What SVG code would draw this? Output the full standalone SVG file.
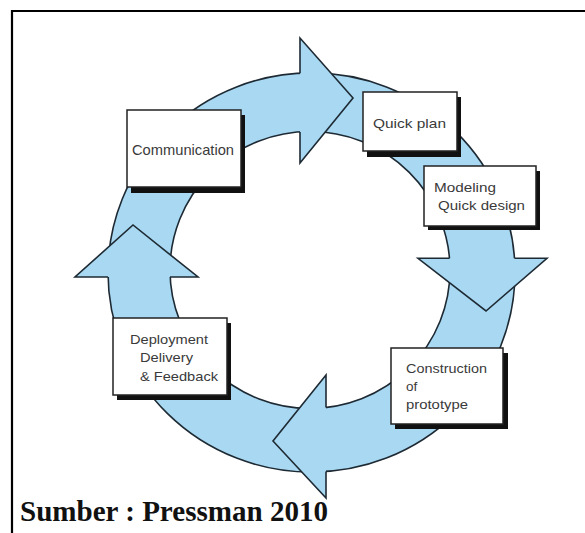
<svg xmlns="http://www.w3.org/2000/svg" width="585" height="533" viewBox="0 0 585 533">
<style>
.ring{fill:#a8d8f2;stroke:#1e2a33;stroke-width:1.6;fill-rule:evenodd}
.headfill{fill:#a8d8f2;stroke:none}
.headline{fill:none;stroke:#1e2a33;stroke-width:1.6;stroke-linejoin:miter}
.shadow{fill:#111}
.box{fill:#fff;stroke:#222;stroke-width:1.5}
.lbl{font-family:"Liberation Sans",Arial,sans-serif;fill:#3a3a3a;font-size:13.5px}
.src{font-family:"Liberation Serif","Times New Roman",serif;font-weight:bold;fill:#111;font-size:29px}
</style>
<rect x="0" y="0" width="585" height="533" fill="#fff"/>
<g id="frame">
<line x1="11" y1="11" x2="585" y2="11" stroke="#000" stroke-width="2.2"/>
<line x1="12" y1="10" x2="12" y2="533" stroke="#000" stroke-width="2.2"/>
</g>
<g id="connectors">
<path class="ring" d="M108,272.5 A203.5,199.5 0 1,0 515,272.5 A203.5,199.5 0 1,0 108,272.5 Z M170,270 A140,138.5 0 1,0 450,270 A140,138.5 0 1,0 170,270 Z"/>
<polygon class="headfill" points="300,38 353,98 300,163"/>
<polyline class="headline" points="300,73.3 300,38 353,98 300,163 300,131.9"/>
<polygon class="headfill" points="418,258.3 486,311 547,258.3"/>
<polyline class="headline" points="449.5,258.3 418,258.3 486,311 547,258.3 514.5,258.3"/>
<polygon class="headfill" points="326,375 273,441 326,498"/>
<polyline class="headline" points="326,407.6 326,375 273,441 326,498 326,471.5"/>
<polygon class="headfill" points="75,277 133,225 198,277"/>
<polyline class="headline" points="108,277 75,277 133,225 198,277 170,277"/>
</g>
<g id="communication">
<rect class="shadow" x="131" y="115" width="114" height="78"/>
<rect class="box" x="127" y="110" width="114" height="77"/>
<text class="lbl" x="132" y="155" font-size="15" style="font-size:15px" textLength="102" lengthAdjust="spacingAndGlyphs">Communication</text>
</g>
<g id="quick-plan">
<rect class="shadow" x="367" y="97" width="94" height="60"/>
<rect class="box" x="363" y="92" width="94" height="59"/>
<text class="lbl" x="373" y="127.5" textLength="73" lengthAdjust="spacingAndGlyphs">Quick plan</text>
</g>
<g id="modeling">
<rect class="shadow" x="428" y="171" width="112" height="59"/>
<rect class="box" x="424" y="166" width="112" height="60"/>
<text class="lbl" x="434" y="191.5" textLength="62" lengthAdjust="spacingAndGlyphs">Modeling</text>
<text class="lbl" x="438" y="210" textLength="87" lengthAdjust="spacingAndGlyphs">Quick design</text>
</g>
<g id="construction">
<rect class="shadow" x="395" y="353" width="113" height="76"/>
<rect class="box" x="391" y="348" width="112" height="76"/>
<text class="lbl" x="406" y="372.5" textLength="81" lengthAdjust="spacingAndGlyphs">Construction</text>
<text class="lbl" x="406" y="391">of</text>
<text class="lbl" x="406" y="409" textLength="62" lengthAdjust="spacingAndGlyphs">prototype</text>
</g>
<g id="deployment">
<rect class="shadow" x="117" y="323" width="114" height="77"/>
<rect class="box" x="113" y="318" width="114" height="77"/>
<text class="lbl" x="130" y="343.5" textLength="78" lengthAdjust="spacingAndGlyphs">Deployment</text>
<text class="lbl" x="140" y="362" textLength="53" lengthAdjust="spacingAndGlyphs">Delivery</text>
<text class="lbl" x="140" y="380.5" textLength="78" lengthAdjust="spacingAndGlyphs">&amp; Feedback</text>
</g>
<g id="source">
<text class="src" x="20" y="521" textLength="308" lengthAdjust="spacingAndGlyphs">Sumber : Pressman 2010</text>
</g>
</svg>
